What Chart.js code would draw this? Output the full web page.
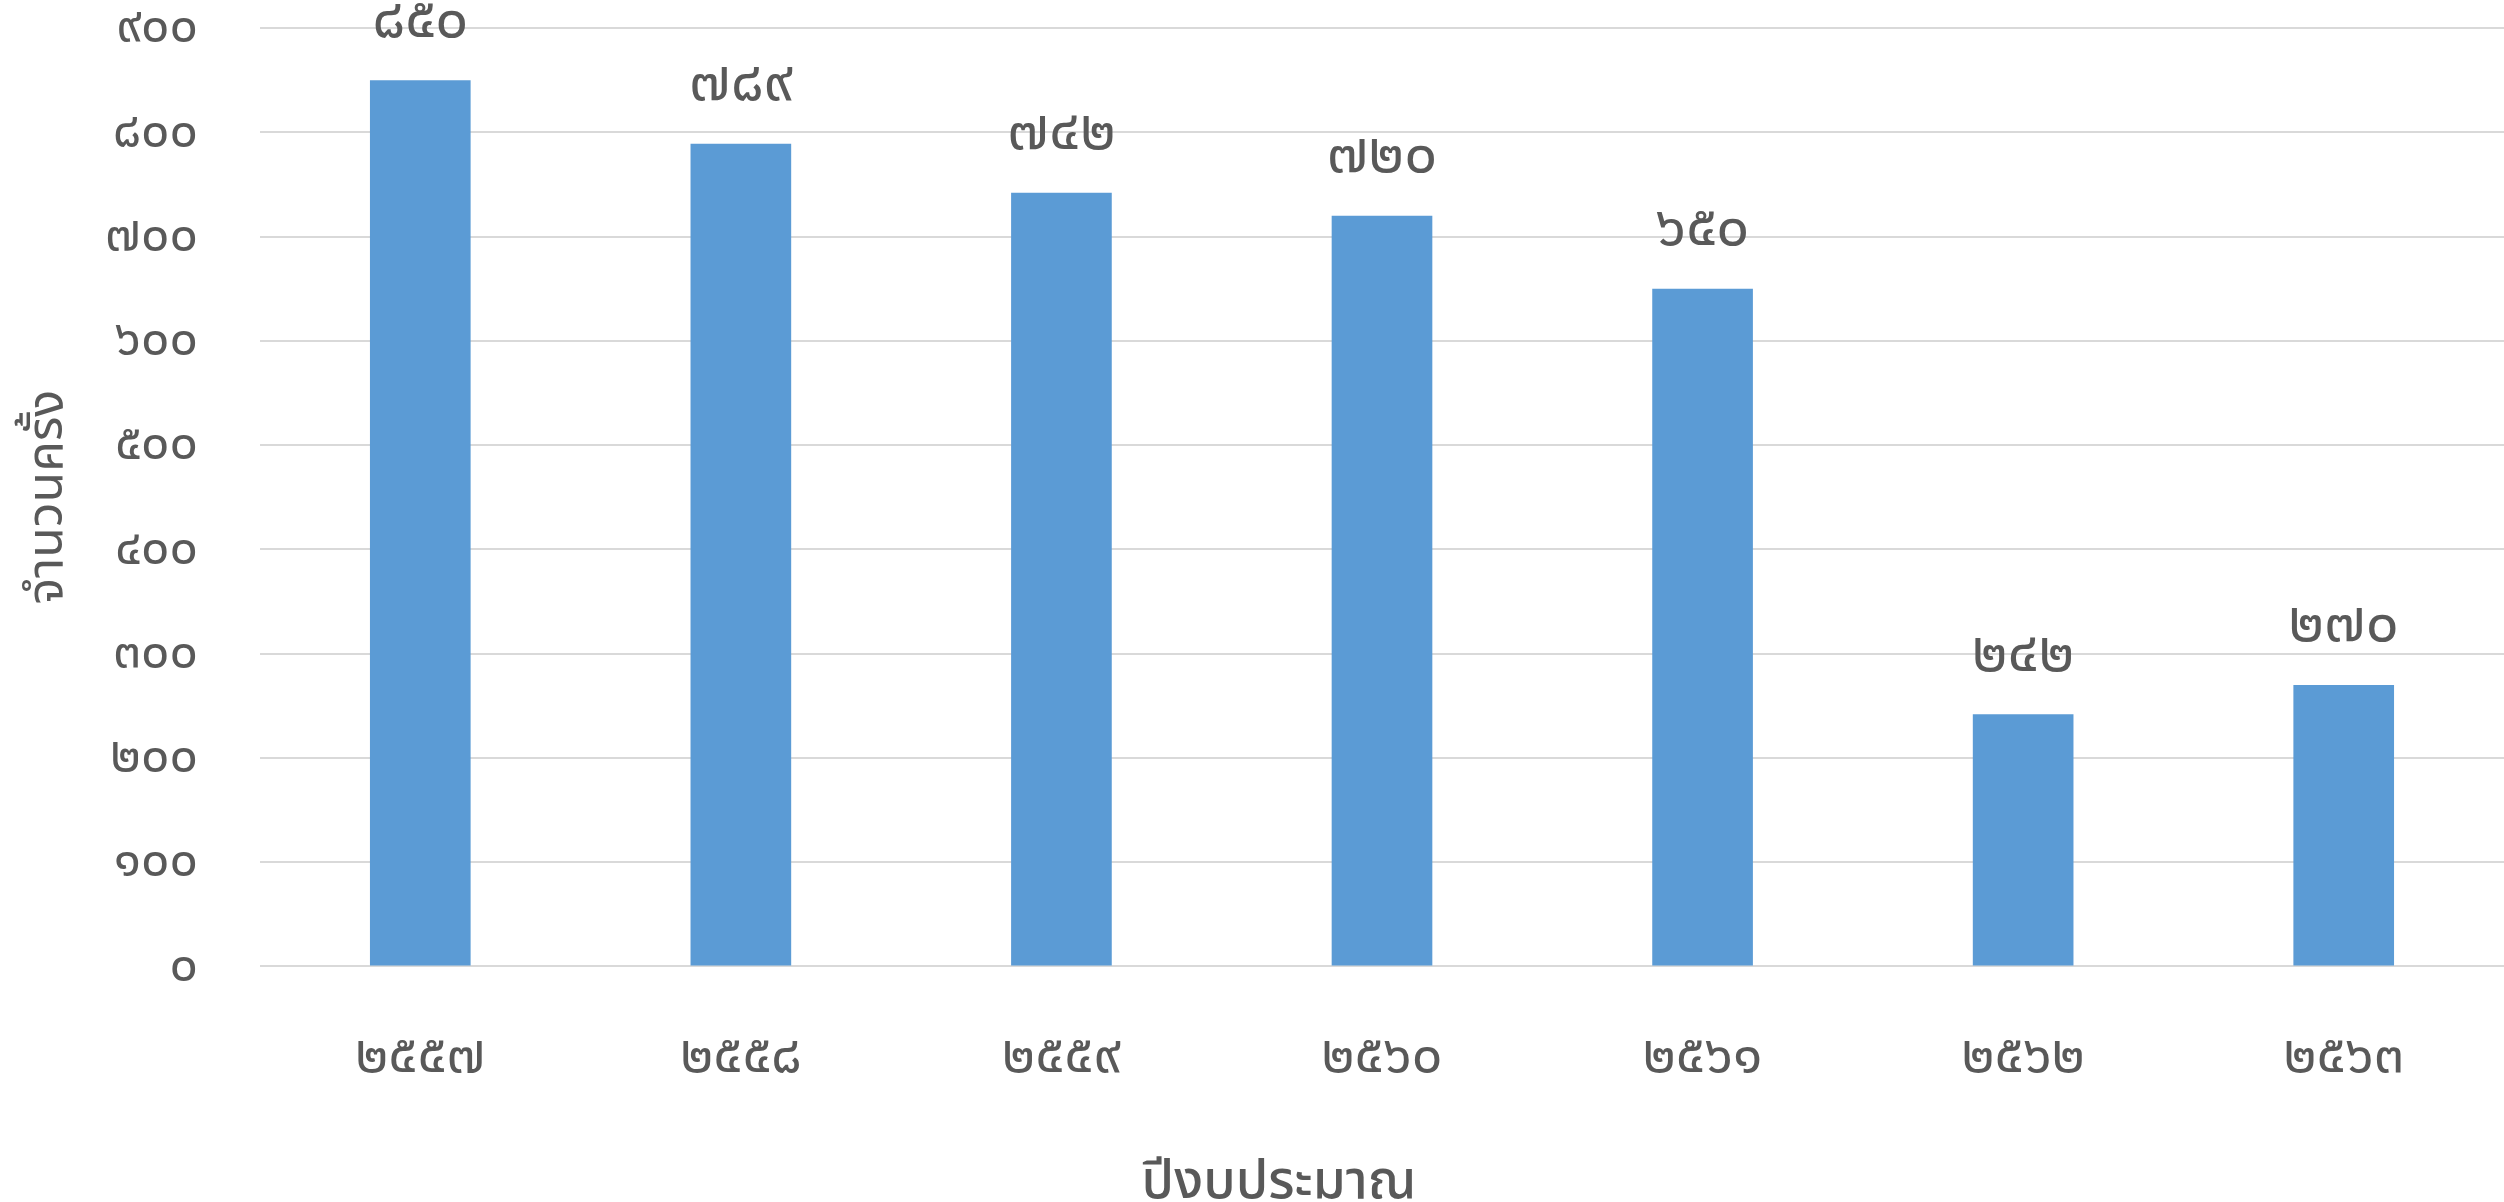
<!DOCTYPE html>
<html>
<head>
<meta charset="utf-8">
<script src="https://cdn.jsdelivr.net/npm/chart.js@4"></script>
<style>
  body { margin: 0; background: #fff; }
  #wrap { width: 2504px; height: 1202px; }
</style>
</head>
<body>
<div id="wrap"><canvas id="CanvasChart" width="2504" height="1202"></canvas></div>
<script>
// ปีงบประมาณ (budget years) and counts
const years = ["๒๕๕๗", "๒๕๕๘", "๒๕๕๙", "๒๕๖๐", "๒๕๖๑", "๒๕๖๒", "๒๕๖๓"];
const counts = [850, 789, 742, 720, 650, 242, 270];
const yMin = 0;
const yMax = 900;
const yStep = 100;

const xTitle = "ปีงบประมาณ";
const yTitle = "จำนวนครั้ง";

const thaiDigits = ["๐", "๑", "๒", "๓", "๔", "๕", "๖", "๗", "๘", "๙"];
function toThai(n) {
    return String(n).split("").map(c => thaiDigits[+c] ?? c).join("");
}

const fontFamily = "'Noto Sans', 'Noto Sans Thai', 'DejaVu Sans', sans-serif";
const textColor = "#595959";

// draws the value above each bar
const barLabels = {
    id: "barLabels",
    afterDatasetsDraw(chart) {
        const ctx = chart.ctx;
        const meta = chart.getDatasetMeta(0);
        ctx.save();
        ctx.font = "58px " + fontFamily;
        ctx.fillStyle = textColor;
        ctx.textAlign = "center";
        ctx.textBaseline = "middle";
        meta.data.forEach((bar, i) => {
            ctx.fillText(toThai(counts[i]), bar.x, bar.y - 60);
        });
        ctx.restore();
    }
};

const ctx = document.getElementById("CanvasChart").getContext("2d");
const CanvasChart = new Chart(ctx, {
    type: "bar",
    data: {
        labels: years,
        datasets: [{
            data: counts,
            backgroundColor: "#5b9bd5",
            borderWidth: 0,
            barPercentage: 0.314,
            categoryPercentage: 1
        }]
    },
    plugins: [barLabels],
    options: {
        responsive: false,
        animation: false,
        // left padding shifts the bottom title to the right like the original
        layout: { padding: { top: 28, right: 0, left: 54, bottom: 0 } },
        plugins: {
            legend: { display: false },
            tooltip: { enabled: false },
            title: {
                display: true,
                position: "bottom",
                text: xTitle,
                color: textColor,
                font: { family: fontFamily, size: 53, weight: "500", lineHeight: 0.736 },
                padding: { top: 0, bottom: 0 }
            }
        },
        scales: {
            x: {
                grid: { display: false, drawTicks: false },
                border: { display: false },
                ticks: {
                    color: textColor,
                    font: { family: fontFamily, size: 54 },
                    padding: 58,
                    maxRotation: 0
                },
                afterFit(scale) { scale.height = 196.5; }
            },
            y: {
                min: yMin,
                max: yMax,
                grid: { color: "#d9d9d9", lineWidth: 2, drawTicks: false },
                border: { display: false },
                ticks: {
                    stepSize: yStep,
                    color: textColor,
                    font: { family: fontFamily, size: 50 },
                    padding: 62,
                    callback: v => toThai(v)
                },
                title: {
                    display: true,
                    text: yTitle,
                    color: textColor,
                    font: { family: fontFamily, size: 50 },
                    padding: { top: -36, bottom: 0 }
                },
                afterFit(scale) {
                    scale.width = 206;
                    scale.paddingTop = 0;
                    scale.paddingBottom = 0;
                }
            }
        }
    }
});
</script>
</body>
</html>
